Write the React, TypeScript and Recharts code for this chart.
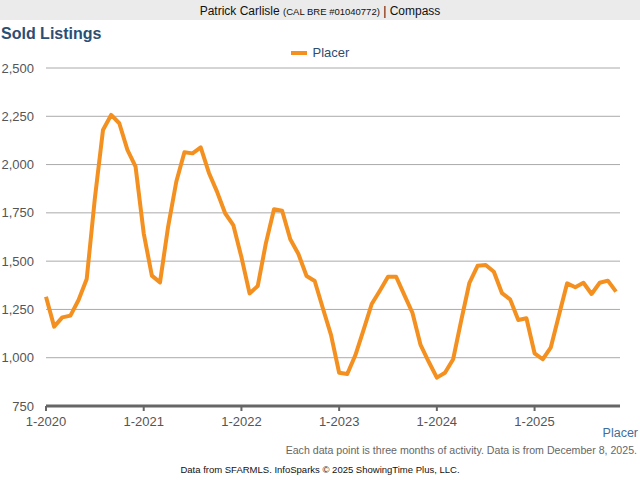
import React from "react";
import { LineChart, Line, XAxis, YAxis, CartesianGrid } from "recharts";

const monthIndex: number[] = Array.from({ length: 71 }, (_, i) => i);
const soldListings: number[] = [
  1316, 1161, 1209, 1218, 1299, 1408, 1825, 2179, 2257, 2214, 2076, 1989,
  1644, 1425, 1390, 1679, 1911, 2064, 2058, 2089, 1958, 1860, 1748, 1687,
  1521, 1333, 1371, 1592, 1769, 1761, 1613, 1537, 1423, 1397, 1256, 1118,
  922, 916, 1014, 1144, 1278, 1347, 1419, 1419, 1325, 1233, 1066, 979,
  897, 922, 992, 1195, 1388, 1476, 1480, 1445, 1334, 1302, 1195, 1204,
  1023, 992, 1054, 1221, 1385, 1365, 1388, 1330, 1388, 1399, 1342,
];
const xTicks: number[] = [0, 12, 24, 36, 48, 60];
const xTickLabels: string[] = ["1-2020", "1-2021", "1-2022", "1-2023", "1-2024", "1-2025"];
const yTicks: number[] = [750, 1000, 1250, 1500, 1750, 2000, 2250, 2500];
const seriesName = "Placer";

const data = monthIndex.map((m, i) => ({ m, placer: soldListings[i] }));

const FONT = '"Liberation Sans", Arial, sans-serif';

export default function App() {
  return (
    <div style={{ position: "absolute", left: 0, top: 0, width: 640, height: 480, background: "#fff", fontFamily: FONT, overflow: "hidden" }}>
      <div style={{ position: "absolute", left: 0, top: 0, width: 640, height: 20, background: "#ebebeb", textAlign: "center", lineHeight: "22px", fontSize: 12, color: "#111" }}>
        Patrick Carlisle <span style={{ fontSize: 9.5 }}>(CAL BRE #01040772)</span> | Compass
      </div>
      <div style={{ position: "absolute", left: 1, top: 25, fontSize: 16, fontWeight: "bold", color: "#2b4e74" }}>
        Sold Listings
      </div>
      <div style={{ position: "absolute", left: 0, top: 45, width: 640, display: "flex", justifyContent: "center", alignItems: "center" }}>
        <span style={{ display: "inline-block", width: 16, height: 4, background: "#f39020", marginRight: 6 }} />
        <span style={{ fontSize: 13, color: "#2f4d6e" }}>{seriesName}</span>
      </div>
      <div style={{ position: "absolute", left: 0, top: 0 }}>
        <LineChart width={640} height={440} data={data} margin={{ top: 68, right: 20, bottom: 4, left: 0 }}>
          <CartesianGrid vertical={false} stroke="#aaaaaa" strokeDasharray="" />
          <XAxis
            dataKey="m"
            type="number"
            domain={[0, 70]}
            ticks={xTicks}
            padding={{ left: 0, right: 4 }}
            tickFormatter={(v: number) => xTickLabels[xTicks.indexOf(v)] ?? ""}
            stroke="#666666"
            axisLine={{ stroke: "#666666", strokeWidth: 3 }}
            tickLine={{ stroke: "#666666", strokeWidth: 2 }}
            tickSize={5}
            tickMargin={6}
            tick={{ fill: "#555555", fontSize: 13, fontFamily: FONT }}
            height={30}
          />
          <YAxis
            domain={[750, 2500]}
            ticks={yTicks}
            width={46}
            axisLine={false}
            tickLine={false}
            tickMargin={6}
            tickFormatter={(v: number) => v.toLocaleString("en-US")}
            tick={{ fill: "#555555", fontSize: 13, fontFamily: FONT }}
          />
          <Line
            type="linear"
            dataKey="placer"
            name={seriesName}
            stroke="#f39020"
            strokeWidth={4}
            dot={false}
            strokeLinejoin="round"
            isAnimationActive={false}
          />
        </LineChart>
      </div>
      <div style={{ position: "absolute", right: 2, top: 426, fontSize: 12.5, color: "#3f6e9e" }}>{seriesName}</div>
      <div style={{ position: "absolute", right: 3, top: 444, fontSize: 10.6, color: "#666666" }}>
        Each data point is three months of activity. Data is from December 8, 2025.
      </div>
      <div style={{ position: "absolute", left: 0, width: 640, textAlign: "center", top: 464, fontSize: 9.5, color: "#111" }}>
        Data from SFARMLS. InfoSparks © 2025 ShowingTime Plus, LLC.
      </div>
    </div>
  );
}
